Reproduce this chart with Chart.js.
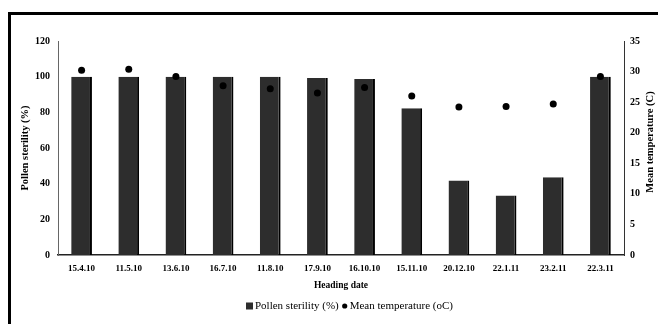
<!DOCTYPE html>
<html>
<head>
<meta charset="utf-8">
<script src="https://cdn.jsdelivr.net/npm/chart.js@4/dist/chart.umd.min.js"></script>
<style>
  html, body { margin: 0; padding: 0; background: #fff; }
  #wrap { position: relative; width: 658px; height: 324px; overflow: hidden; }
  #frame { position: absolute; left: 8px; top: 12px; width: 700px; height: 400px;
           border-left: 3px solid #000; border-top: 3px solid #000; pointer-events: none; }
  canvas { position: absolute; left: 0; top: 0; }
</style>
</head>
<body>
<div id="wrap">
  <canvas id="c" width="658" height="324"></canvas>
  <div id="frame"></div>
</div>
<script>
// ---- data ----
const headingDates = ['15.4.10','11.5.10','13.6.10','16.7.10','11.8.10','17.9.10','16.10.10','15.11.10','20.12.10','22.1.11','23.2.11','22.3.11'];
const pollenSterility = [100, 100, 100, 100, 100, 99.3, 98.7, 82.3, 41.8, 33.3, 43.6, 100];
const meanTemperature = [30.2, 30.4, 29.2, 27.7, 27.2, 26.5, 27.4, 26.0, 24.2, 24.3, 24.7, 29.2];
const sterilityTicks = [0, 20, 40, 60, 80, 100, 120];
const temperatureTicks = [0, 5, 10, 15, 20, 25, 30, 35];
const sterilityLabel = 'Pollen sterility (%)';
const temperatureLabel = 'Mean temperature (oC)';
const xTitle = 'Heading date';
const yTitle = 'Pollen sterility (%)';
const y2Title = 'Mean temperature (C)';

const SERIF = "'Liberation Serif', 'Times New Roman', serif";

const extras = {
  id: 'extras',
  afterDraw(chart) {
    const ctx = chart.ctx;
    const area = chart.chartArea;
    ctx.save();
    // right axis title, reading bottom-to-top
    ctx.font = 'bold 10.5px ' + SERIF;
    ctx.fillStyle = '#000';
    ctx.textAlign = 'center';
    ctx.textBaseline = 'middle';
    ctx.translate(650, (area.top + area.bottom) / 2 - 6);
    ctx.rotate(-Math.PI / 2);
    ctx.fillText(y2Title, 0, 0);
    ctx.restore();

    // legend
    ctx.save();
    ctx.font = '11px ' + SERIF;
    ctx.fillStyle = '#000';
    ctx.textBaseline = 'middle';
    const ly = 306;
    let x = 246;
    ctx.fillStyle = '#2d2d2d';
    ctx.fillRect(x, ly - 3.5, 7, 7);
    x += 9;
    ctx.fillStyle = '#000';
    ctx.textAlign = 'left';
    ctx.fillText(chart.data.datasets[0].label, x, ly + 0.5);
    x += ctx.measureText(chart.data.datasets[0].label).width + 6;
    ctx.beginPath();
    ctx.arc(x, ly, 2.6, 0, Math.PI * 2);
    ctx.fill();
    x += 5;
    ctx.fillText(chart.data.datasets[1].label, x, ly + 0.5);
    ctx.restore();
  }
};

new Chart(document.getElementById('c'), {
  data: {
    labels: headingDates,
    datasets: [
      {
        type: 'bar',
        label: sterilityLabel,
        data: pollenSterility,
        yAxisID: 'y',
        backgroundColor: '#2d2d2d',
        borderColor: '#000',
        borderWidth: { top: 0, left: 0, bottom: 0, right: 2 },
        borderSkipped: false,
        categoryPercentage: 1,
        barPercentage: 0.44,
        order: 1
      },
      {
        type: 'line',
        label: temperatureLabel,
        data: meanTemperature,
        yAxisID: 'y2',
        showLine: false,
        pointRadius: 3.5,
        pointBackgroundColor: '#000',
        pointBorderColor: '#000',
        pointBorderWidth: 0,
        order: 0
      }
    ]
  },
  options: {
    responsive: false,
    animation: false,
    devicePixelRatio: 1,
    layout: { padding: { top: 41, left: 0, right: 0, bottom: 0 } },
    plugins: {
      legend: { display: false },
      tooltip: { enabled: false }
    },
    scales: {
      x: {
        type: 'category',
        offset: true,
        grid: { display: false, drawTicks: false },
        border: { display: true, color: '#222', width: 1.5 },
        ticks: { color: '#000', font: { family: SERIF, size: 9, weight: 'bold' }, padding: 8, maxRotation: 0, autoSkip: false },
        title: { display: true, text: xTitle, color: '#000', font: { family: SERIF, size: 9.5, weight: 'bold' }, padding: { top: 0, bottom: 33 } },
        afterFit(s) { s.height = 69; }
      },
      y: {
        position: 'left',
        min: sterilityTicks[0],
        max: sterilityTicks[sterilityTicks.length - 1],
        afterBuildTicks(s) { s.ticks = sterilityTicks.map(v => ({ value: v })); },
        grid: { display: false, drawTicks: false },
        border: { display: true, color: '#666', width: 1 },
        ticks: { color: '#000', font: { family: SERIF, size: 10, weight: 'bold' }, padding: 8 },
        title: { display: true, text: yTitle, color: '#000', font: { family: SERIF, size: 10.5, weight: 'bold' }, padding: { top: 19, bottom: 0 } },
        afterFit(s) { s.width = 58; }
      },
      y2: {
        position: 'right',
        min: temperatureTicks[0],
        max: temperatureTicks[temperatureTicks.length - 1],
        afterBuildTicks(s) { s.ticks = temperatureTicks.map(v => ({ value: v })); },
        grid: { display: false, drawTicks: false },
        border: { display: true, color: '#333', width: 1 },
        ticks: { color: '#000', font: { family: SERIF, size: 10, weight: 'bold' }, padding: 6 },
        afterFit(s) { s.width = 34; }
      }
    }
  },
  plugins: [extras]
});
</script>
</body>
</html>
